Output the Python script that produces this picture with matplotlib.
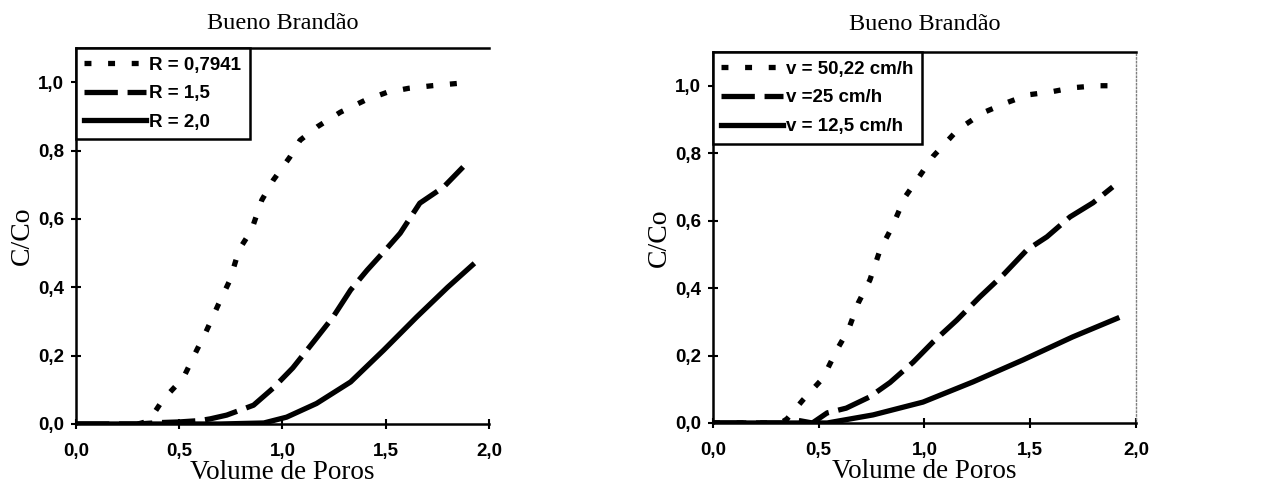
import numpy as np
import matplotlib.pyplot as plt
from matplotlib.ticker import FuncFormatter

plt.rcParams['lines.scale_dashes'] = False

# left panel: effect of R
vp_r1 = [0.30, 0.33, 0.36, 0.42, 0.52, 0.585, 0.63, 0.69, 0.745, 0.79, 0.85, 0.90, 0.955,
         1.035, 1.085, 1.17, 1.28, 1.40, 1.505, 1.61, 1.73, 1.86]
c_r1 = [0.0, 0.005, 0.015, 0.07, 0.135, 0.216, 0.27, 0.35, 0.42, 0.51, 0.567, 0.655, 0.713,
        0.78, 0.83, 0.87, 0.912, 0.947, 0.97, 0.982, 0.99, 0.997]
vp_r2 = [0.0, 0.30, 0.40, 0.50, 0.60, 0.65, 0.73, 0.86, 0.955, 1.05, 1.15, 1.245, 1.33, 1.41,
         1.50, 1.57, 1.665, 1.78, 1.875]
c_r2 = [0.0, 0.0, 0.004, 0.006, 0.01, 0.015, 0.026, 0.055, 0.105, 0.164, 0.24, 0.313, 0.392,
        0.45, 0.51, 0.558, 0.646, 0.693, 0.752]
vp_r3 = [0.0, 0.70, 0.91, 1.02, 1.165, 1.33, 1.49, 1.65, 1.80, 1.92]
c_r3 = [0.0, 0.0, 0.003, 0.02, 0.06, 0.123, 0.216, 0.313, 0.40, 0.465]
labels_r = ['R = 0,7941', 'R = 1,5', 'R = 2,0']

# right panel: effect of velocity
vp_v1 = [0.0, 0.32, 0.35, 0.425, 0.52, 0.585, 0.64, 0.687, 0.742, 0.79, 0.846, 0.908, 0.964,
         1.04, 1.158, 1.277, 1.39, 1.49, 1.60, 1.70, 1.815, 1.87]
c_v1 = [0.0, 0.0, 0.012, 0.068, 0.133, 0.216, 0.276, 0.356, 0.424, 0.513, 0.58, 0.67, 0.72,
        0.79, 0.87, 0.92, 0.95, 0.973, 0.982, 0.994, 1.0, 1.0]
vp_v2 = [0.0, 0.33, 0.40, 0.47, 0.54, 0.63, 0.74, 0.837, 0.946, 1.04, 1.153, 1.262, 1.372,
         1.484, 1.579, 1.688, 1.797, 1.89]
c_v2 = [0.0, 0.0, 0.008, 0.0, 0.03, 0.044, 0.077, 0.12, 0.18, 0.24, 0.305, 0.374, 0.439,
        0.513, 0.552, 0.611, 0.653, 0.70]
vp_v3 = [0.0, 0.54, 0.757, 0.993, 1.23, 1.466, 1.70, 1.91]
c_v3 = [0.0, 0.0, 0.024, 0.062, 0.122, 0.187, 0.255, 0.31]
labels_v = ['v = 50,22 cm/h', 'v =25 cm/h', 'v = 12,5 cm/h']

xticks = [0.0, 0.5, 1.0, 1.5, 2.0]
yticks = [0.0, 0.2, 0.4, 0.6, 0.8, 1.0]

serif = 'Liberation Serif'
sans = ['Liberation Sans Narrow', 'Liberation Sans', 'DejaVu Sans']

fig = plt.figure(figsize=(12.83, 5.01), dpi=100)
ax1 = fig.add_axes([0.0592, 0.1537, 0.3219, 0.7505])
ax2 = fig.add_axes([0.5557, 0.1557, 0.3297, 0.7405])

comma = FuncFormatter(lambda v, p: ('%.1f' % v).replace('.', ','))

panels = [
    (ax1, [(vp_r1, c_r1), (vp_r2, c_r2), (vp_r3, c_r3)], labels_r, 14),
    (ax2, [(vp_v1, c_v1), (vp_v2, c_v2), (vp_v3, c_v3)], labels_v, 16),
]

for ax, series, labels, tpad in panels:
    styles = [dict(dashes=(5, 12)), dict(dashes=(24, 7)), dict(linestyle='-')]
    for (xs, ys), st, lab in zip(series, styles, labels):
        ax.plot(xs, ys, color='black', lw=3.8, label=lab, **st)
    ax.set_xlim(0, 2.0)
    ax.set_ylim(0, 1.1)
    ax.set_xticks(xticks)
    ax.set_yticks(yticks)
    ax.xaxis.set_major_formatter(comma)
    ax.yaxis.set_major_formatter(comma)
    for lab in ax.get_xticklabels() + ax.get_yticklabels():
        lab.set_family(sans)
        lab.set_fontweight('bold')
        lab.set_fontsize(13.5)
    ax.tick_params(direction='inout', length=7, width=1.5, pad=5)
    ax.tick_params(axis='x', pad=10)
    for s in ['left', 'bottom', 'top']:
        ax.spines[s].set_linewidth(1.8)
    ax.spines['right'].set_linestyle(':')
    ax.spines['right'].set_color('gray')
    ax.spines['right'].set_linewidth(1)
    ax.set_title('Bueno Brandão', family=serif, fontsize=17.5, pad=tpad)
    ax.set_xlabel('Volume de Poros', family=serif, fontsize=19.5, labelpad=0)
    ax.set_ylabel('C/Co', family=serif, fontsize=20, labelpad=2)
    leg = ax.legend(loc='upper left', bbox_to_anchor=(0.0, 1.0), borderaxespad=0,
                    handlelength=3.3, handletextpad=0.15, labelspacing=0.62,
                    borderpad=0.45,
                    fancybox=False, framealpha=1, edgecolor='black',
                    prop={'family': sans, 'weight': 'bold', 'size': 13.5})
    leg.get_frame().set_linewidth(1.8)

ax1.spines['right'].set_visible(False)

fig.savefig('out.png', dpi=100)
